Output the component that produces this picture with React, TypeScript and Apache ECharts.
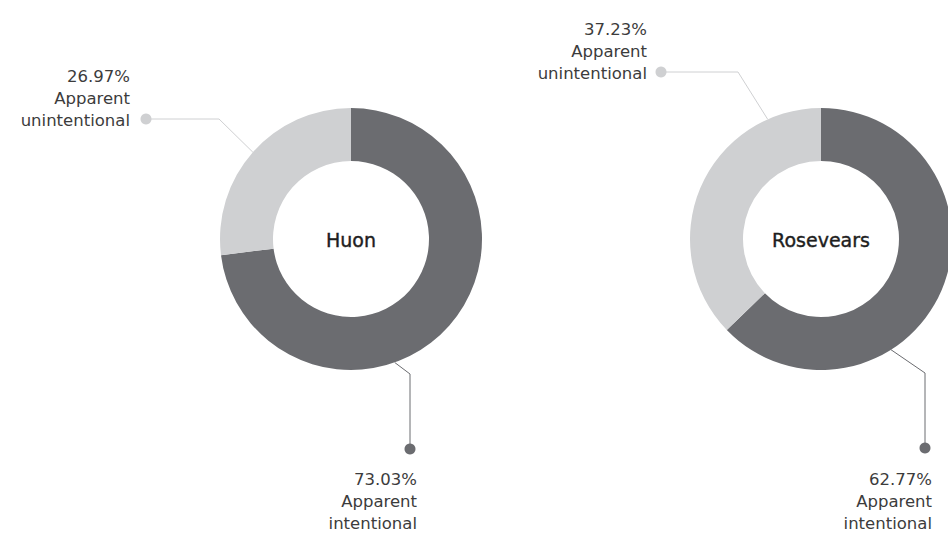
import React, { useEffect, useRef } from "react";
import * as echarts from "echarts";

// ---- data ----
const pieNames = ["Huon", "Rosevears"];
const categories = ["Apparent intentional", "Apparent unintentional"];
const huonValues = [73.03, 26.97];
const rosevearsValues = [62.77, 37.23];
const seriesValues = [huonValues, rosevearsValues];

// ---- layout / style ----
const COLORS = ["#6b6c70", "#cfd0d2"];
const CENTERS = [
  [351, 239],
  [821, 239],
];
const R_IN = 78;
const R_OUT = 131;
const FONT = "DejaVu Sans";
const TEXT_COLOR = "#3c3c3c";

// label-line geometry relative to each pie centre: start angle on the outer edge (deg, clockwise from top),
// elbow offset, end (dot) offset, text anchor offset, vertical alignment of the text block
const LABEL_GEOM = [
  [
    { angle: 160.5, elbow: [59, 135], dot: [59, 210], text: [66, 229], vAlign: "top" },
    { angle: 311.5, elbow: [-132, -120], dot: [-205, -120], text: [-221, -108], vAlign: "bottom" },
  ],
  [
    { angle: 147.7, elbow: [104, 134], dot: [104, 209], text: [111, 229], vAlign: "top" },
    { angle: 336, elbow: [-83, -167], dot: [-160, -167], text: [-174, -155], vAlign: "bottom" },
  ],
];

export default function App() {
  const ref = useRef<HTMLDivElement>(null);

  useEffect(() => {
    if (!ref.current) return;
    const chart = echarts.init(ref.current, null, { renderer: "svg" });

    const series = seriesValues.map((vals, si) => ({
      type: "pie",
      name: pieNames[si],
      center: CENTERS[si],
      radius: [R_IN, R_OUT],
      startAngle: 90,
      clockwise: true,
      avoidLabelOverlap: false,
      silent: true,
      itemStyle: { borderWidth: 0 },
      label: {
        show: true,
        position: "outside",
        formatter: (p: any) => `${Number(p.value).toFixed(2)}%\n${String(p.name).split(" ").join("\n")}`,
        fontFamily: FONT,
        fontSize: 16.5,
        lineHeight: 22,
        color: TEXT_COLOR,
        align: "right",
      },
      labelLine: { show: true, length: 30, length2: 40, lineStyle: { width: 1 } },
      labelLayout: (params: any) => {
        const g = LABEL_GEOM[params.seriesIndex][params.dataIndex];
        const [cx, cy] = CENTERS[params.seriesIndex];
        const a = (g.angle * Math.PI) / 180;
        const start = [cx + R_OUT * Math.sin(a), cy - R_OUT * Math.cos(a)];
        return {
          x: cx + g.text[0],
          y: cy + g.text[1],
          align: "right",
          verticalAlign: g.vAlign,
          labelLinePoints: [start, [cx + g.elbow[0], cy + g.elbow[1]], [cx + g.dot[0], cy + g.dot[1]]],
        };
      },
      data: vals.map((v, i) => ({
        value: v,
        name: categories[i],
        itemStyle: { color: COLORS[i] },
        labelLine: { lineStyle: { color: COLORS[i] } },
      })),
    }));

    const graphic: any[] = [];
    pieNames.forEach((name, si) => {
      graphic.push({
        type: "text",
        x: CENTERS[si][0],
        y: CENTERS[si][1] + 1,
        z: 100,
        style: {
          text: name,
          fontFamily: FONT,
          fontSize: 19,
          fill: "#1e1e1e",
          stroke: "#1e1e1e",
          lineWidth: 0.4,
          align: "center",
          verticalAlign: "middle",
          textAlign: "center",
          textVerticalAlign: "middle",
        },
      });
      LABEL_GEOM[si].forEach((g, di) => {
        graphic.push({
          type: "circle",
          z: 100,
          shape: { cx: CENTERS[si][0] + g.dot[0], cy: CENTERS[si][1] + g.dot[1], r: 5.5 },
          style: { fill: COLORS[di] },
        });
      });
    });

    chart.setOption({
      animation: false,
      backgroundColor: "#ffffff",
      series,
      graphic,
    });

    return () => chart.dispose();
  }, []);

  return (
    <div
      ref={ref}
      style={{ position: "absolute", left: 0, top: 0, width: 948, height: 533 }}
    />
  );
}
